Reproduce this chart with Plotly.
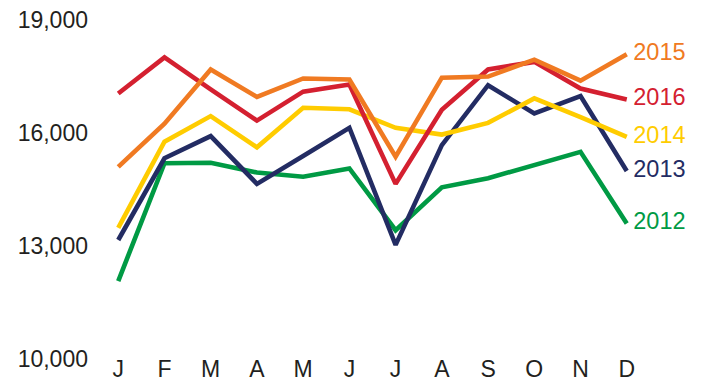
import plotly.graph_objects as go

months = ["J", "F", "M", "A", "M", "J", "J", "A", "S", "O", "N", "D"]
y_ticks = [10000, 13000, 16000, 19000]
y_tick_labels = ["10,000", "13,000", "16,000", "19,000"]

sales_2012 = [12070, 15200, 15210, 14950, 14840, 15060, 13420, 14560, 14800, 15150, 15500, 13600]
sales_2013 = [13160, 15330, 15920, 14650, 15390, 16140, 13030, 15680, 17270, 16520, 16980, 14990]
sales_2014 = [13480, 15770, 16450, 15620, 16670, 16630, 16140, 15960, 16270, 16920, 16420, 15900]
sales_2015 = [15100, 16250, 17690, 16960, 17450, 17420, 15370, 17470, 17500, 17950, 17390, 18090]
sales_2016 = [17050, 18010, 17160, 16330, 17100, 17290, 14650, 16620, 17690, 17890, 17180, 16890]

series = [
    ("2012", sales_2012, "#009A44"),
    ("2013", sales_2013, "#232C63"),
    ("2014", sales_2014, "#FFCC00"),
    ("2016", sales_2016, "#D42030"),
    ("2015", sales_2015, "#F07A22"),
]

FONT = "Liberation Sans, Arial, Helvetica, sans-serif"

x_idx = list(range(len(months)))
fig = go.Figure()
for name, vals, color in series:
    fig.add_trace(go.Scatter(
        x=x_idx, y=vals, name=name,
        mode="lines+text",
        line=dict(color=color, width=4.6),
        # year label sits just past the December point
        text=[""] * (len(vals) - 1) + [" " + name],
        textposition="middle right",
        textfont=dict(color=color, size=23.5, family=FONT),
        cliponaxis=False,
        hoverinfo="skip",
    ))

fig.update_layout(
    width=703, height=385,
    margin=dict(l=109, r=67, t=5, b=26, autoexpand=False),
    paper_bgcolor="white", plot_bgcolor="white",
    showlegend=False,
    font=dict(family=FONT, color="#231F20", size=23),
)
fig.update_xaxes(
    range=[-0.2, 11.2], tickmode="array", tickvals=x_idx, ticktext=months,
    showgrid=False, zeroline=False, showline=False, ticks="",
    tickfont=dict(size=23), automargin=False, ticklabelstandoff=-6,
)
fig.update_yaxes(
    range=[10000, 19400], tickmode="array", tickvals=y_ticks, ticktext=y_tick_labels,
    showgrid=False, zeroline=False, showline=False, ticks="",
    ticklabelstandoff=20, tickfont=dict(size=23), automargin=False,
)

fig.write_html("out.html")
